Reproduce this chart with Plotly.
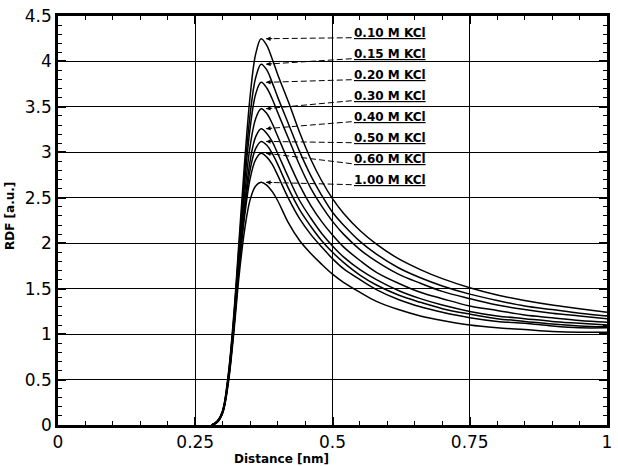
import plotly.graph_objects as go

# ---- data ----
distance = [0.28, 0.29, 0.30, 0.31, 0.32, 0.33, 0.34, 0.35, 0.36, 0.37, 0.38, 0.39, 0.40,
            0.42, 0.44, 0.46, 0.48, 0.50, 0.52, 0.55, 0.58, 0.62, 0.66, 0.70, 0.75, 0.80,
            0.85, 0.90, 0.95, 1.00]

labels = ["0.10 M KCl", "0.15 M KCl", "0.20 M KCl", "0.30 M KCl",
          "0.40 M KCl", "0.50 M KCl", "0.60 M KCl", "1.00 M KCl"]

rdf_010 = [0.00, 0.04, 0.16, 0.55, 1.20, 2.05, 2.90, 3.62, 4.08, 4.25, 4.18, 4.03, 3.86,
           3.55, 3.22, 2.93, 2.69, 2.49, 2.33, 2.14, 1.99, 1.83, 1.71, 1.61, 1.51, 1.43,
           1.37, 1.32, 1.28, 1.24]
rdf_015 = [0.00, 0.04, 0.16, 0.53, 1.16, 1.98, 2.77, 3.42, 3.82, 3.97, 3.91, 3.77, 3.61,
           3.31, 3.01, 2.75, 2.53, 2.34, 2.20, 2.02, 1.88, 1.73, 1.62, 1.53, 1.44, 1.37,
           1.31, 1.27, 1.23, 1.20]
rdf_020 = [0.00, 0.04, 0.15, 0.52, 1.14, 1.93, 2.67, 3.27, 3.64, 3.77, 3.71, 3.59, 3.44,
           3.15, 2.86, 2.61, 2.41, 2.24, 2.10, 1.93, 1.80, 1.66, 1.56, 1.47, 1.39, 1.32,
           1.27, 1.23, 1.20, 1.17]
rdf_030 = [0.00, 0.04, 0.15, 0.50, 1.10, 1.86, 2.54, 3.07, 3.37, 3.48, 3.43, 3.32, 3.18,
           2.90, 2.64, 2.42, 2.24, 2.09, 1.96, 1.81, 1.68, 1.56, 1.46, 1.39, 1.31, 1.26,
           1.21, 1.18, 1.15, 1.13]
rdf_040 = [0.00, 0.03, 0.14, 0.49, 1.07, 1.80, 2.43, 2.91, 3.17, 3.26, 3.21, 3.12, 2.99,
           2.72, 2.47, 2.28, 2.11, 1.97, 1.85, 1.71, 1.60, 1.48, 1.39, 1.32, 1.25, 1.20,
           1.17, 1.14, 1.12, 1.10]
rdf_050 = [0.00, 0.03, 0.14, 0.48, 1.06, 1.76, 2.36, 2.81, 3.04, 3.12, 3.08, 2.99, 2.87,
           2.60, 2.37, 2.19, 2.03, 1.90, 1.79, 1.65, 1.54, 1.43, 1.35, 1.28, 1.22, 1.17,
           1.14, 1.11, 1.09, 1.08]
rdf_060 = [0.00, 0.03, 0.14, 0.47, 1.04, 1.73, 2.30, 2.71, 2.92, 2.99, 2.95, 2.87, 2.75,
           2.49, 2.27, 2.10, 1.96, 1.83, 1.72, 1.60, 1.49, 1.38, 1.30, 1.24, 1.18, 1.14,
           1.12, 1.09, 1.07, 1.07]
rdf_100 = [0.00, 0.03, 0.13, 0.45, 1.00, 1.65, 2.15, 2.48, 2.63, 2.67, 2.64, 2.57, 2.47,
           2.22, 2.03, 1.89, 1.77, 1.66, 1.57, 1.46, 1.36, 1.27, 1.20, 1.15, 1.10, 1.07,
           1.05, 1.03, 1.02, 1.02]

series = [rdf_010, rdf_015, rdf_020, rdf_030, rdf_040, rdf_050, rdf_060, rdf_100]

x_ticks = [0, 0.25, 0.5, 0.75, 1]
y_ticks = [0, 0.5, 1, 1.5, 2, 2.5, 3, 3.5, 4, 4.5]

# ---- layout constants ----
LABEL_X = 0.535
LABEL_Y0 = 4.316
LABEL_STEP = 0.231
UL_OFFSET = 0.055
TIP_DX = 0.009
BOLD_FONT = "DejaVu Sans"

fig = go.Figure()

for name, ys in zip(labels, series):
    fig.add_trace(go.Scatter(
        x=distance, y=ys, mode="lines", name=name,
        line=dict(color="black", width=1.5, shape="spline", smoothing=1.0),
        showlegend=False, hoverinfo="skip"))

annotations = []
shapes = []
for i, (name, ys) in enumerate(zip(labels, series)):
    peak = max(ys)
    px = distance[ys.index(peak)]
    tip_x = px + TIP_DX
    tip_y = peak
    ly = LABEL_Y0 - i * LABEL_STEP
    tail_x = LABEL_X
    tail_y = ly - UL_OFFSET
    shapes.append(dict(type="line", xref="x", yref="y",
                       x0=tail_x, y0=tail_y, x1=tip_x, y1=tip_y,
                       line=dict(color="black", width=1, dash="6px,3px")))
    annotations.append(dict(x=tip_x, y=tip_y, xref="x", yref="y",
                            ax=tip_x + (tail_x - tip_x) * 0.09,
                            ay=tip_y + (tail_y - tip_y) * 0.09,
                            axref="x", ayref="y", text="",
                            showarrow=True, arrowhead=2, arrowsize=0.9,
                            arrowwidth=1, arrowcolor="black"))
    annotations.append(dict(x=LABEL_X, y=ly, xref="x", yref="y",
                            xanchor="left", yanchor="middle", showarrow=False,
                            text="<u>" + name + "</u>",
                            font=dict(family=BOLD_FONT, size=12, color="black",
                                      weight="bold")))

annotations.append(dict(x=0.408, y=0, xref="paper", yref="paper",
                        xanchor="center", yanchor="middle", yshift=-34,
                        showarrow=False, text="Distance [nm]",
                        font=dict(family=BOLD_FONT, size=12, color="black", weight="bold")))
annotations.append(dict(x=-0.0885, y=0.512, xref="paper", yref="paper",
                        xanchor="center", yanchor="middle", textangle=-90,
                        showarrow=False, text="RDF [a.u.]",
                        font=dict(family=BOLD_FONT, size=12, color="black", weight="bold")))

axis_common = dict(
    showline=True, linecolor="black", linewidth=2.5, mirror="allticks",
    ticks="inside", ticklen=8, tickwidth=2, tickcolor="black",
    showgrid=True, gridcolor="black", gridwidth=1, zeroline=False,
    tickfont=dict(family="DejaVu Sans", size=17, color="black"),
)

fig.update_layout(
    width=618, height=466,
    margin=dict(l=58, r=6, t=15, b=41),
    paper_bgcolor="white", plot_bgcolor="white",
    xaxis=dict(range=[0, 1], tickvals=x_ticks,
               minor=dict(dtick=0.05, ticks="inside", ticklen=4, tickwidth=1,
                          tickcolor="black", showgrid=False),
               **axis_common),
    yaxis=dict(range=[0, 4.5], tickvals=y_ticks,
               minor=dict(dtick=0.1, ticks="inside", ticklen=4, tickwidth=1,
                          tickcolor="black", showgrid=False),
               **axis_common),
    shapes=shapes,
    annotations=annotations,
)

fig.write_html("out.html")
